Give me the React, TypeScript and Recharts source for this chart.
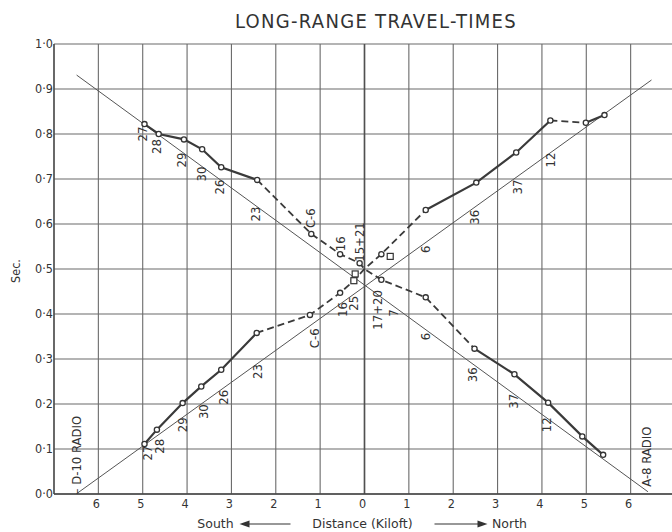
import React from "react";
import {
  ComposedChart,
  Line,
  Scatter,
  XAxis,
  YAxis,
  CartesianGrid,
  ReferenceLine,
} from "recharts";

const FONT =
  "'Liberation Sans Narrow', 'DejaVu Sans Condensed', 'Liberation Sans', Arial, sans-serif";
const WIDE_FONT = "'DejaVu Sans', 'Liberation Sans', Arial, sans-serif";
const INK = "#333";
const GRID = "#6a6a6a";

// distance in kiloft (south negative), travel time in sec
// shot at the north end (A-8), times grow toward the south
const fromNorth = [
  { d: -4.96, t: 0.822 },
  { d: -4.64, t: 0.8 },
  { d: -4.07, t: 0.788 },
  { d: -3.66, t: 0.766 },
  { d: -3.23, t: 0.726 },
  { d: -2.42, t: 0.698 },
  { d: -1.2, t: 0.578 },
  { d: -0.55, t: 0.533 },
  { d: -0.11, t: 0.513 },
  { d: 0, t: 0.5 },
  { d: 0.38, t: 0.476 },
  { d: 1.38, t: 0.437 },
  { d: 2.48, t: 0.323 },
  { d: 3.38, t: 0.266 },
  { d: 4.14, t: 0.203 },
  { d: 4.91, t: 0.128 },
  { d: 5.38, t: 0.087 },
];

// shot at the south end (D-10), times grow toward the north
const fromSouth = [
  { d: -4.96, t: 0.111 },
  { d: -4.68, t: 0.143 },
  { d: -4.1, t: 0.202 },
  { d: -3.68, t: 0.239 },
  { d: -3.23, t: 0.276 },
  { d: -2.43, t: 0.358 },
  { d: -1.23, t: 0.398 },
  { d: -0.55, t: 0.447 },
  { d: -0.24, t: 0.474 },
  { d: 0, t: 0.5 },
  { d: 0.38, t: 0.533 },
  { d: 1.38, t: 0.631 },
  { d: 2.52, t: 0.692 },
  { d: 3.42, t: 0.759 },
  { d: 4.19, t: 0.83 },
  { d: 4.99, t: 0.825 },
  { d: 5.41, t: 0.842 },
];

const squareMarks = [
  { d: -0.24, t: 0.474 },
  { d: -0.21, t: 0.489 },
  { d: 0.58, t: 0.528 },
];

// straight-line travel times from each radio shot
const fitFromNorth = [
  { d: -6.49, t: 0.931 },
  { d: 6.39, t: 0.005 },
];
const fitFromSouth = [
  { d: -6.5, t: 0.0 },
  { d: 6.47, t: 0.92 },
];

const stationLabels = [
  { text: "27", d: -5.0, t: 0.8 },
  { text: "28", d: -4.68, t: 0.772 },
  { text: "29", d: -4.13, t: 0.742 },
  { text: "30", d: -3.68, t: 0.711 },
  { text: "26", d: -3.26, t: 0.682 },
  { text: "23", d: -2.46, t: 0.622 },
  { text: "C-6", d: -1.22, t: 0.613 },
  { text: "16", d: -0.55, t: 0.556 },
  { text: "15+21", d: -0.11, t: 0.56 },
  { text: "6", d: 1.38, t: 0.544 },
  { text: "36", d: 2.48, t: 0.615 },
  { text: "37", d: 3.46, t: 0.682 },
  { text: "12", d: 4.19, t: 0.742 },
  { text: "27", d: -4.89, t: 0.091 },
  { text: "28", d: -4.62, t: 0.106 },
  { text: "29", d: -4.1, t: 0.154 },
  { text: "30", d: -3.63, t: 0.183 },
  { text: "26", d: -3.18, t: 0.215 },
  { text: "23", d: -2.41, t: 0.272 },
  { text: "C-6", d: -1.13, t: 0.346 },
  { text: "16", d: -0.49, t: 0.41 },
  { text: "25", d: -0.25, t: 0.424 },
  { text: "17+20", d: 0.3, t: 0.409 },
  { text: "7", d: 0.65, t: 0.402 },
  { text: "6", d: 1.38, t: 0.35 },
  { text: "36", d: 2.44, t: 0.265 },
  { text: "37", d: 3.35, t: 0.206 },
  { text: "12", d: 4.1, t: 0.154 },
  { text: "— D-10 RADIO", d: -6.5, t: 0.08 },
  { text: "A-8 RADIO", d: 6.35, t: 0.083 },
];

const xTicks = [-7, -6, -5, -4, -3, -2, -1, 0, 1, 2, 3, 4, 5, 6, 7];
const yTicks = [0, 0.1, 0.2, 0.3, 0.4, 0.5, 0.6, 0.7, 0.8, 0.9, 1.0];

// solid where the arrivals are firm, dashed where they are doubtful
const northSolidA = fromNorth.slice(0, 6);
const northDashed = fromNorth.slice(5, 13);
const northSolidB = fromNorth.slice(12);
const southSolidA = fromSouth.slice(0, 6);
const southDashed = fromSouth.slice(5, 12);
const southSolidB = fromSouth.slice(11, 15);
const southDashedB = fromSouth.slice(14, 16);
const southSolidC = fromSouth.slice(15);

const markers = [...fromNorth, ...fromSouth].filter((p) => p.d !== 0);

function CircleMark(props: any) {
  const { cx, cy } = props;
  if (cx == null || cy == null) return null;
  return <circle cx={cx} cy={cy} r={2.6} fill="#fff" stroke={INK} strokeWidth={1.3} />;
}

function SquareMark(props: any) {
  const { cx, cy } = props;
  if (cx == null || cy == null) return null;
  return (
    <rect x={cx - 3} y={cy - 3} width={6} height={6} fill="#fff" stroke={INK} strokeWidth={1.2} />
  );
}

function StationLabel(props: any) {
  const { cx, cy, payload } = props;
  if (cx == null || cy == null) return null;
  return (
    <text
      x={cx}
      y={cy}
      transform={`rotate(-90 ${cx} ${cy})`}
      textAnchor="middle"
      dominantBaseline="central"
      fontSize={13}
      fontFamily={FONT}
      fill={INK}
    >
      {payload.text}
    </text>
  );
}

function AxisTitle(props: any) {
  const { viewBox } = props;
  const cx = viewBox.x + viewBox.width / 2 - 2;
  const y = viewBox.y + viewBox.height + 4;
  const style = { fontSize: 12.5, fontFamily: WIDE_FONT, fill: INK };
  return (
    <g>
      <text x={cx - 147} y={y} textAnchor="middle" {...style}>
        South
      </text>
      <line x1={cx - 114} y1={y - 4} x2={cx - 72} y2={y - 4} stroke={INK} strokeWidth={1.2} />
      <path d={`M${cx - 123} ${y - 4} l10 -3.5 v7 z`} fill={INK} />
      <text x={cx} y={y} textAnchor="middle" {...style}>
        Distance (Kiloft)
      </text>
      <line x1={cx + 72} y1={y - 4} x2={cx + 116} y2={y - 4} stroke={INK} strokeWidth={1.2} />
      <path d={`M${cx + 125} ${y - 4} l-10 -3.5 v7 z`} fill={INK} />
      <text x={cx + 147} y={y} textAnchor="middle" {...style}>
        North
      </text>
    </g>
  );
}

const solid = { stroke: "#3a3a3a", strokeWidth: 2.2 };
const dashed = { stroke: "#3a3a3a", strokeWidth: 1.8, strokeDasharray: "7 4" };

export default function App() {
  return (
    <div
      style={{
        position: "fixed",
        left: 0,
        top: 0,
        width: 672,
        height: 532,
        overflow: "hidden",
        background: "#fff",
      }}
    >
      <div
        style={{
          position: "absolute",
          top: 9,
          left: 0,
          width: 752,
          textAlign: "center",
          fontFamily: FONT,
          fontSize: 20,
          color: INK,
          letterSpacing: 1.3,
        }}
      >
        LONG-RANGE TRAVEL-TIMES
      </div>
      <div
        style={{
          position: "absolute",
          left: 4,
          top: 271,
          transform: "translate(0, -50%) rotate(-90deg)",
          fontFamily: FONT,
          fontSize: 12.5,
          color: INK,
        }}
      >
        Sec.
      </div>
      <ComposedChart
        width={677}
        height={532}
        margin={{ top: 44, right: 2, bottom: 8, left: 0 }}
        style={{ position: "absolute", left: 0, top: 0 }}
      >
        <CartesianGrid stroke={GRID} strokeWidth={1.1} />
        <XAxis
          type="number"
          dataKey="d"
          domain={[-7, 7]}
          ticks={xTicks}
          interval={0}
          allowDataOverflow
          tickFormatter={(v: number) => (Math.abs(v) === 7 ? "" : String(Math.abs(v)))}
          tick={{ fontSize: 12.5, fill: INK, fontFamily: FONT, dx: -2 }}
          tickLine={false}
          tickSize={3}
          axisLine={{ stroke: "#444", strokeWidth: 1.3 }}
          height={30}
          label={{ content: AxisTitle }}
        />
        <YAxis
          type="number"
          dataKey="t"
          domain={[0, 1]}
          ticks={yTicks}
          interval={0}
          allowDataOverflow
          tickFormatter={(v: number) => v.toFixed(1).replace(".", "·")}
          tick={{ fontSize: 12.5, fill: INK, fontFamily: FONT, dx: 3 }}
          tickLine={false}
          tickSize={2}
          axisLine={{ stroke: "#444", strokeWidth: 1.3 }}
          width={54}
        />
        <ReferenceLine x={0} stroke="#505050" strokeWidth={1.6} />
        <Line data={fitFromNorth} dataKey="t" stroke="#555" strokeWidth={1} dot={false} isAnimationActive={false} />
        <Line data={fitFromSouth} dataKey="t" stroke="#555" strokeWidth={1} dot={false} isAnimationActive={false} />
        <Line data={northSolidA} dataKey="t" {...solid} dot={false} isAnimationActive={false} />
        <Line data={northDashed} dataKey="t" {...dashed} dot={false} isAnimationActive={false} />
        <Line data={northSolidB} dataKey="t" {...solid} dot={false} isAnimationActive={false} />
        <Line data={southSolidA} dataKey="t" {...solid} dot={false} isAnimationActive={false} />
        <Line data={southDashed} dataKey="t" {...dashed} dot={false} isAnimationActive={false} />
        <Line data={southSolidB} dataKey="t" {...solid} dot={false} isAnimationActive={false} />
        <Line data={southDashedB} dataKey="t" {...dashed} dot={false} isAnimationActive={false} />
        <Line data={southSolidC} dataKey="t" {...solid} dot={false} isAnimationActive={false} />
        <Scatter data={markers} dataKey="t" shape={CircleMark} isAnimationActive={false} />
        <Scatter data={squareMarks} dataKey="t" shape={SquareMark} isAnimationActive={false} />
        <Scatter data={stationLabels} dataKey="t" shape={StationLabel} isAnimationActive={false} />
      </ComposedChart>
    </div>
  );
}
